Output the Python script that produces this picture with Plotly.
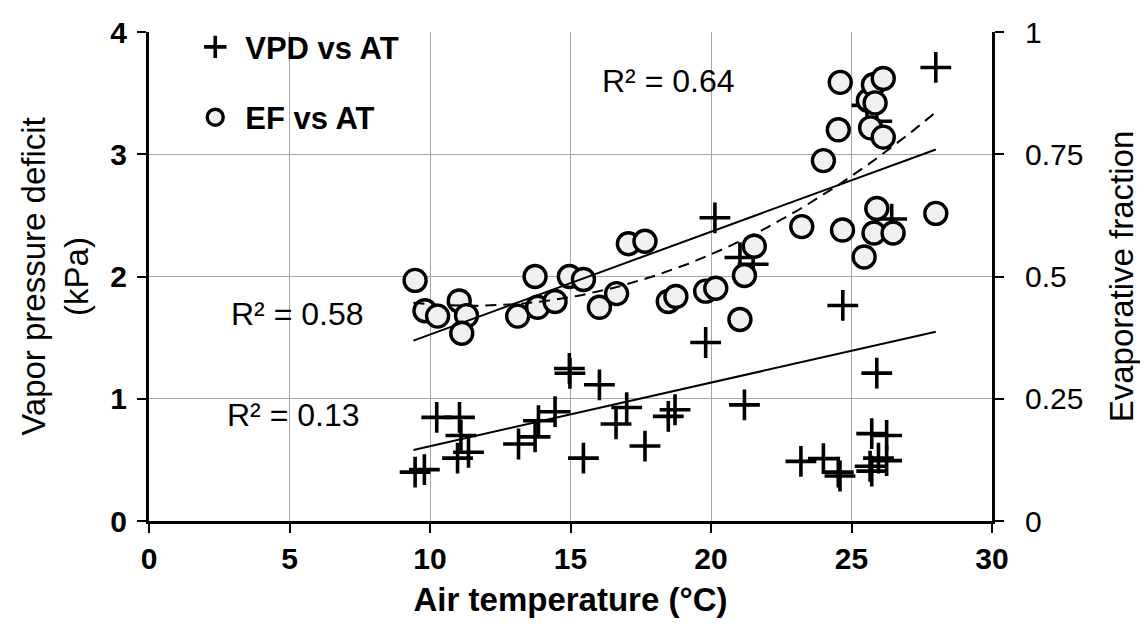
import plotly.graph_objects as go
import numpy as np

# EF vs AT (right axis, evaporative fraction)
ef_at = [9.47, 9.82, 10.27, 11.04, 11.30, 11.13, 13.12, 13.74, 13.83, 14.45, 14.96, 15.46, 16.03, 16.64,
         17.06, 17.65, 18.48, 18.75, 19.81, 20.17, 21.03, 21.19, 21.54, 23.23, 24.00, 24.53, 24.60, 24.68,
         25.45, 25.60, 25.68, 25.78, 25.84, 25.80, 25.90, 26.13, 26.13, 26.48, 28.00]
ef_val = [0.492, 0.430, 0.419, 0.450, 0.420, 0.384, 0.419, 0.500, 0.437, 0.449, 0.500, 0.494, 0.437, 0.465,
          0.567, 0.572, 0.449, 0.459, 0.470, 0.476, 0.412, 0.502, 0.562, 0.602, 0.737, 0.800, 0.897, 0.595,
          0.540, 0.860, 0.804, 0.892, 0.855, 0.589, 0.639, 0.905, 0.785, 0.589, 0.629]

# VPD vs AT (left axis, kPa)
vpd_at = [9.47, 9.80, 10.24, 11.05, 11.10, 10.98, 11.37, 13.15, 13.74, 13.86, 14.45, 14.96, 14.98, 16.03,
          15.46, 16.62, 17.00, 17.65, 18.48, 18.72, 19.81, 20.14, 21.03, 21.19, 21.50, 23.20, 24.00, 24.53,
          24.59, 24.69, 25.55, 25.90, 25.72, 26.25, 25.96, 26.25, 25.66, 25.72, 25.90, 26.43, 28.00]
vpd_val = [0.40, 0.42, 0.848, 0.848, 0.70, 0.514, 0.562, 0.63, 0.688, 0.82, 0.894, 1.248, 1.208, 1.114,
           0.514, 0.794, 0.928, 0.613, 0.856, 0.91, 1.46, 2.48, 2.155, 0.95, 2.10, 0.488, 0.510, 0.40,
           0.368, 1.763, 3.40, 3.27, 0.715, 0.70, 0.514, 0.494, 0.448, 0.408, 1.21, 2.47, 3.71]

# Trend line coefficients (highest power first)
vpd_lin = [0.052, 0.092]
ef_lin = [0.02103, 0.171]
ef_quad = [0.001455, -0.033465, 0.6324]

x_ticks = [0, 5, 10, 15, 20, 25, 30]
y_ticks = [0, 1, 2, 3, 4]
y2_ticks = [0, 0.25, 0.5, 0.75, 1]
y2_labels = ["0", "0.25", "0.5", "0.75", "1"]

FONT = "Liberation Sans, Arial, sans-serif"

xs = np.linspace(min(vpd_at + ef_at) - 0.06, max(vpd_at + ef_at), 100)

fig = go.Figure()

fig.add_trace(go.Scatter(x=vpd_at, y=vpd_val, mode="markers", name="VPD vs AT",
                         legendgroup="a",
                         marker=dict(symbol="cross-thin", size=22, color="black",
                                     line=dict(color="black", width=3.6))))
fig.add_trace(go.Scatter(x=ef_at, y=ef_val, mode="markers", name="EF vs AT", yaxis="y2",
                         legendgroup="b",
                         marker=dict(symbol="circle", size=22, color="#f0f0f0",
                                     line=dict(color="black", width=3.4))))

fig.add_trace(go.Scatter(x=xs, y=np.polyval(vpd_lin, xs), mode="lines", showlegend=False,
                         line=dict(color="black", width=2)))
fig.add_trace(go.Scatter(x=xs, y=np.polyval(ef_lin, xs), mode="lines", showlegend=False, yaxis="y2",
                         line=dict(color="black", width=2)))
fig.add_trace(go.Scatter(x=xs, y=np.polyval(ef_quad, xs), mode="lines", showlegend=False, yaxis="y2",
                         line=dict(color="black", width=2, dash="11px,7px")))

ann_font = dict(family=FONT, size=32, color="black")
fig.add_annotation(x=18.47, y=3.60, text="R² = 0.64", showarrow=False, font=ann_font)
fig.add_annotation(x=5.30, y=1.69, text="R² = 0.58", showarrow=False, font=ann_font)
fig.add_annotation(x=5.15, y=0.87, text="R² = 0.13", showarrow=False, font=ann_font)

# page body has an 8px margin: shrink the figure so the plot area lands at the reference pixels
fig.update_layout(
    width=1140, height=620,
    margin=dict(l=141, r=156, t=13, b=107),
    paper_bgcolor="white", plot_bgcolor="white",
    font=dict(family=FONT, color="black"),
    showlegend=True,
    legend=dict(x=0.043, y=1.024, xanchor="left", yanchor="top", bgcolor="rgba(0,0,0,0)",
                font=dict(family=FONT, size=31, color="black", weight="bold"),
                tracegroupgap=27, itemwidth=50),
    xaxis=dict(range=[0, 30], tickvals=x_ticks, showgrid=True, gridcolor="#a6a6a6", gridwidth=1,
               showline=True, linecolor="black", linewidth=3, ticks="outside", ticklen=9,
               tickwidth=2, tickcolor="black", zeroline=False, automargin=False,
               tickfont=dict(family=FONT, size=30, weight="bold"),
               title=dict(text="Air temperature (°C)", font=dict(family=FONT, size=33, weight="bold"),
                          standoff=14)),
    yaxis=dict(range=[0, 4], tickvals=y_ticks, showgrid=True, gridcolor="#a6a6a6", gridwidth=1,
               showline=True, linecolor="black", linewidth=3, ticks="outside", ticklen=9,
               tickwidth=2, tickcolor="black", zeroline=False, automargin=False,
               ticklabelstandoff=4, ticklabeloverflow="allow",
               tickfont=dict(family=FONT, size=30, weight="bold"),
               title=dict(text="Vapor pressure deficit<br>(kPa)", font=dict(family=FONT, size=33),
                          standoff=12)),
    yaxis2=dict(range=[0, 1], tickvals=y2_ticks, ticktext=y2_labels, overlaying="y", side="right",
                showgrid=False, showline=True, linecolor="black", linewidth=3, ticks="outside",
                ticklen=9, tickwidth=2, tickcolor="black", zeroline=False, automargin=False,
                ticklabelstandoff=15, ticklabeloverflow="allow",
                tickfont=dict(family=FONT, size=30),
                title=dict(text="Evaporative fraction", font=dict(family=FONT, size=33), standoff=28)),
)

fig.write_html("out.html")
